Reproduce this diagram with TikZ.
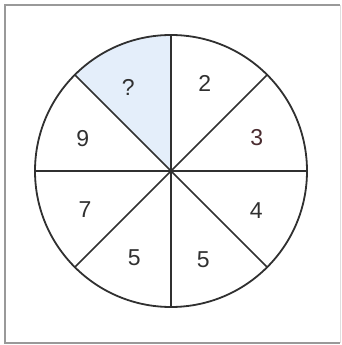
\documentclass[tikz,border=0pt]{standalone}
\usepackage{fontspec}
\setmainfont{Liberation Sans}
\usetikzlibrary{calc}
\definecolor{qblue}{HTML}{E4EEFA}
\definecolor{ink}{HTML}{303030}
\definecolor{redink}{HTML}{4A2C30}
\tikzset{
    frame/.style={draw=gray!80, line width=1.5pt},
    rim/.style={draw=ink, line width=1.8pt},
    spoke/.style={draw=ink, line width=1.6pt},
    numlabel/.style={text=ink, font=\fontsize{23}{23}\selectfont}
}
\begin{document}
\begin{tikzpicture}[x=1pt, y=1pt]
			\useasboundingbox (0,0) rectangle (342,345);
			\draw [frame] (340,340) -- (5,340) -- (5,2) -- (340,2);
			\draw [draw=gray!25, line width=1pt] (340,340) -- (340,2);
			
			\begin{scope}[shift={(171,174)}]
				\coordinate (o) at (0,0);
				\fill [qblue] (o) -- (90:136) arc[start angle=90, end angle=135, radius=136] -- cycle;
				\foreach \a in {0,45,...,315}
					\draw [spoke] (o) -- (\a:136);
				\draw [rim] (o) circle[radius=136];
				
				\foreach \a/\t/\n in {69/2/two, 335/4/four, 290/5/fiveR, 247/5/fiveL, 204/7/seven, 160/9/nine, 117/?/ask}
					\node (n\n) [numlabel] at (\a:94) {\t};
				\node (nthree) [numlabel, text=redink] at (21:92) {3};
			\end{scope}
		\end{tikzpicture}
\end{document}
